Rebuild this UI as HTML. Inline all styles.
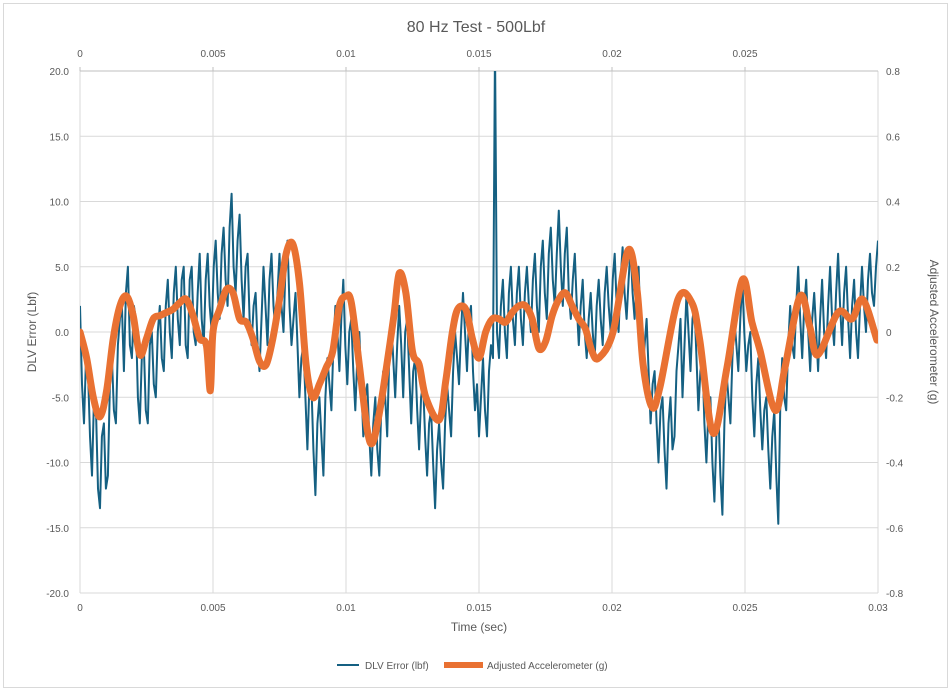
<!DOCTYPE html>
<html><head><meta charset="utf-8"><style>
body{margin:0;background:#fff;font-family:"Liberation Sans",sans-serif}
svg text{font-family:"Liberation Sans",sans-serif;fill:#595959}
</style></head><body>
<svg width="952" height="692" viewBox="0 0 952 692">
<rect x="3.5" y="3.5" width="944" height="684" fill="#fff" stroke="#d9d9d9"/>
<text x="476" y="32" font-size="16" text-anchor="middle">80 Hz Test - 500Lbf</text>
<defs><clipPath id="pc"><rect x="80" y="71" width="798" height="522"/></clipPath></defs>
<g id="grid"></g>
<g id="axes"></g>
<g clip-path="url(#pc)"><path id="blue" fill="none" stroke="#156082" stroke-width="2" stroke-linejoin="round"/>
<path id="orange" fill="none" stroke="#E97132" stroke-width="7" stroke-linejoin="round" stroke-linecap="round"/></g>
<text x="479" y="631" font-size="12" text-anchor="middle">Time (sec)</text>
<text transform="translate(36,332) rotate(-90)" font-size="12" text-anchor="middle">DLV Error (Lbf)</text>
<text transform="translate(930,332) rotate(90)" font-size="12" text-anchor="middle">Adjusted Accelerometer (g)</text>
<g>
<line x1="337" y1="665" x2="359" y2="665" stroke="#156082" stroke-width="2"/>
<text x="365" y="669" font-size="10">DLV Error (lbf)</text>
<line x1="444" y1="665" x2="483" y2="665" stroke="#E97132" stroke-width="6"/>
<text x="487" y="669" font-size="10">Adjusted Accelerometer (g)</text>
</g>
</svg>
<script>
const blueStep=0.000075;
const blueValues=[2,-4,-7,-2,-3,-8,-11,-5,-6,-12,-13.5,-8,-7,-12,-11,-4,-2,-6,-7,-1,
1,2,-3,3,5,-1,-2,2,1,-5,-7,-2,-1,-6,-7,-1,0,-4,-5,0,
2,-2,-3,2,4,0,-2,3,5,1,-1,4,5,-1,-2,4,5,0,-1,3,
6,1,-1,4,6,2,0,5,7,3,1,6,8,4,2,8,10.6,5,3,7,
9,4,1,5,6,1,-1,2,3,-1,-3,1,5,2,-1,4,6,2,0,3,
6,2,0,5,7,2,-1,1,3,-1,-5,-2,-1,-5,-9,-4,-4,-9,-12.5,-7,
-5,-8,-11,-5,-2,-4,-6,-1,2,0,-3,1,4,-1,-4,0,1,-3,-6,-2,
0,-4,-8,-5,-4,-8,-11,-7,-5,-9,-11,-6,-3,-5,-8,-2,1,-2,-5,-1,
2,-1,-5,0,1,-3,-7,-3,-2,-6,-9,-5,-4,-8,-11,-7,-6,-10,-13.5,-9,
-7,-10,-12,-7,-4,-6,-8,-3,0,-2,-4,0,3,0,-3,1,2,-3,-6,-4,
-8,-5,-2,-6,-8,-3,-1,-2,22,0,-2,2,4,0,-2,3,5,1,-1,3,
5,1,-1,3,5,2,0,4,6,2,0,5,7,3,1,6,8,4,2,6,
9.3,5,2,6,8,3,1,4,6,2,-1,2,4,0,-2,1,3,0,-2,2,
4,1,-1,3,5,2,0,4,6,2,0,4,6.5,3,1,4,6.5,3,1,4,
5,0,-3,-1,1,-3,-7,-4,-3,-7,-10,-6,-5,-9,-12,-7,-5,-9,-8,-3,
-1,1,-5,-1,3,0,-3,1,2,-2,-6,-3,-2,-7,-10,-6,-5,-10,-13,-8,
-6,-11,-14,-7,-3,-5,-7,-2,1,-1,-3,1,4,0,-3,-1,0,-5,-8,-4,
-2,-6,-9,-6,-5,-9,-12,-8,-6,-11,-14.7,-6,-2,-5,-6,-1,2,-1,-2,2,
5,1,-2,2,4,0,-3,1,3,0,-3,1,4,0,-2,2,5,1,-1,3,
6,2,-1,3,5,1,-2,2,4,0,-2,2,5,2,0,4,6,3,2,5,7];
const accelTimes=[0,0.00025,0.0005,0.00075,0.001,0.00125,0.0015,0.00175,0.002,0.00225,0.0025,0.00275,0.003,0.00325,0.0035,0.00375,0.004,0.00425,0.0045,0.00475,0.0049,0.005,0.00525,0.0055,0.00575,0.006,0.00625,0.0065,0.00675,0.007,0.00725,0.0075,0.00775,0.008,0.00825,0.0085,0.00875,0.009,0.00925,0.0095,0.00975,0.01,0.0102,0.0105,0.0108,0.011,0.01125,0.0115,0.0118,0.012,0.01225,0.0125,0.01275,0.013,0.0135,0.01375,0.014,0.0142,0.0145,0.01475,0.015,0.01525,0.0155,0.01575,0.016,0.01625,0.0165,0.01675,0.017,0.01725,0.0175,0.01775,0.018,0.01825,0.0185,0.01875,0.019,0.01925,0.0195,0.02004,0.0206,0.02094,0.02117,0.0215,0.0218,0.02248,0.023,0.0233,0.0238,0.02432,0.0249,0.02526,0.02556,0.02613,0.0265,0.02707,0.02744,0.02774,0.0285,0.02902,0.02943,0.02996];
const accelValues=[0,-0.08,-0.2,-0.26,-0.18,-0.02,0.08,0.11,0.05,-0.07,-0.02,0.04,0.05,0.06,0.07,0.09,0.1,0.05,-0.02,-0.04,-0.18,0,0.07,0.13,0.12,0.04,0.03,-0.02,-0.09,-0.1,-0.02,0.1,0.24,0.27,0.15,-0.1,-0.2,-0.16,-0.11,-0.06,0.08,0.11,0.09,-0.1,-0.3,-0.34,-0.25,-0.12,0.05,0.18,0.12,-0.06,-0.1,-0.2,-0.27,-0.15,0,0.07,0.07,-0.02,-0.08,0,0.04,0.04,0.03,0.06,0.08,0.08,0.04,-0.05,-0.03,0.05,0.1,0.12,0.08,0.04,0.01,-0.06,-0.08,0,0.25,0.13,-0.1,-0.23,-0.17,0.1,0.09,-0.025,-0.31,-0.11,0.16,0.03,-0.055,-0.24,-0.11,0.11,0.015,-0.07,0.06,0.04,0.1,-0.025];
const leftTicks=[20,15,10,5,0,-5,-10,-15,-20];
const rightTicks=[0.8,0.6,0.4,0.2,0,-0.2,-0.4,-0.6,-0.8];
const bottomTicks=[0,0.005,0.01,0.015,0.02,0.025,0.03];
const topTicks=[0,0.005,0.01,0.015,0.02,0.025];
const X0=80,X1=878,Y0=593,Y1=71;
const xs=t=>X0+(t/0.03)*(X1-X0);
const yl=v=>Y0-(v+20)/40*(Y0-Y1);
const yr=v=>Y0-(v+0.8)/1.6*(Y0-Y1);
const NS='http://www.w3.org/2000/svg';
const grid=document.getElementById('grid'),axes=document.getElementById('axes');
function mk(tag,attrs,parent){const e=document.createElementNS(NS,tag);for(const k in attrs)e.setAttribute(k,attrs[k]);parent.appendChild(e);return e;}
leftTicks.forEach((v,i)=>{
 const g=mk('line',{x1:X0,x2:X1,y1:yl(v),y2:yl(v),stroke:'#d9d9d9','stroke-width':1},grid);
 
 
 const t=mk('text',{x:69,y:yl(v)+4,'font-size':10,'text-anchor':'end'},axes);t.textContent=v.toFixed(1);
 
 
 const r=mk('text',{x:886,y:yr(rightTicks[i])+4,'font-size':10},axes);r.textContent=rightTicks[i]===0?'0':rightTicks[i].toFixed(1);
 
 
});
bottomTicks.forEach(v=>{
 const g=mk('line',{x1:xs(v),x2:xs(v),y1:Y1,y2:Y0,stroke:'#d9d9d9','stroke-width':1},grid);
 
 
 const t=mk('text',{x:xs(v),y:611,'font-size':10,'text-anchor':'middle'},axes);t.textContent=String(v);
 
 
});
topTicks.forEach(v=>{
 const t=mk('text',{x:xs(v),y:57,'font-size':10,'text-anchor':'middle'},axes);t.textContent=String(v);
 
 
 const k=mk('line',{x1:xs(v),x2:xs(v),y1:Y1-4,y2:Y1,stroke:'#bfbfbf'},axes);
 
 
});
const ta=mk('line',{x1:X0,x2:X1,y1:Y1,y2:Y1,stroke:'#bfbfbf'},axes);


document.getElementById('blue').setAttribute('d',blueValues.map((v,i)=>(i?'L':'M')+xs(i*blueStep).toFixed(1)+','+yl(v).toFixed(1)).join(''));
const pts=accelTimes.map((t,i)=>[xs(t),yr(accelValues[i])]);
let d='M'+pts[0][0]+','+pts[0][1];
for(let i=0;i<pts.length-1;i++){const p0=pts[i-1]||pts[i],p1=pts[i],p2=pts[i+1],p3=pts[i+2]||p2;
 d+='C'+(p1[0]+(p2[0]-p0[0])/6)+','+(p1[1]+(p2[1]-p0[1])/6)+' '+(p2[0]-(p3[0]-p1[0])/6)+','+(p2[1]-(p3[1]-p1[1])/6)+' '+p2[0]+','+p2[1];}
document.getElementById('orange').setAttribute('d',d);
</script>
</body></html>
